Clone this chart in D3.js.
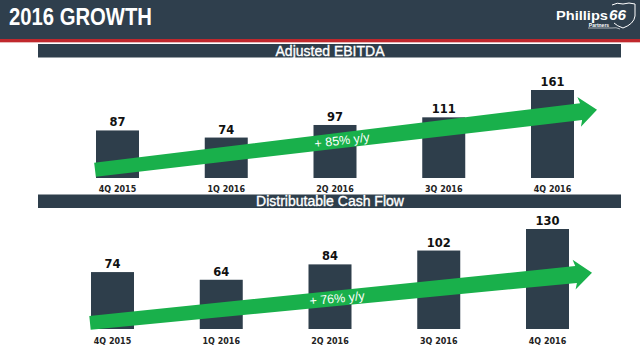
<!DOCTYPE html>
<html>
<head>
<meta charset="utf-8">
<script src="https://cdn.jsdelivr.net/npm/d3@7"></script>
<style>
html,body{margin:0;padding:0;background:#fff;}
svg{display:block;}
</style>
</head>
<body>
<svg id="chart" width="640" height="349"></svg>
<script>
const categories = ["4Q 2015", "1Q 2016", "2Q 2016", "3Q 2016", "4Q 2016"];
const ebitdaValues = [87, 74, 97, 111, 161];
const dcfValues = [74, 64, 84, 102, 130];
const ebitdaGrowth = "+ 85% y/y";
const dcfGrowth = "+ 76% y/y";
// trend arrow anchors in value units (start, end)
const ebitdaArrow = [15, 125];
const dcfArrow = [8, 73];

const DARK = "#2e3e4b";
const GREEN = "#19b04b";
const svg = d3.select("#chart");

// Header
svg.append("rect").attr("x",0).attr("y",0).attr("width",640).attr("height",39).attr("fill","#2f3f4d");
svg.append("rect").attr("x",0).attr("y",39).attr("width",640).attr("height",3).attr("fill","#c0282d");
svg.append("rect").attr("x",0).attr("y",42).attr("width",640).attr("height",1).attr("fill","#e8b8b8");
svg.append("text").attr("x",9).attr("y",25)
  .attr("font-family","Liberation Sans, Arial, sans-serif").attr("font-weight","bold")
  .attr("font-size",23).attr("fill","#fff")
  .attr("textLength",143).attr("lengthAdjust","spacingAndGlyphs")
  .text("2016 GROWTH");

// Logo
const logo = svg.append("g");
logo.append("path")
  .attr("d","M612,5 Q617,2 623,4 Q629,2 635,4 L635,16 Q634,24 623,28 Q617,26 614,23")
  .attr("fill","none").attr("stroke","#fff").attr("stroke-width",1);
logo.append("path")
  .attr("d","M588,28 L612,28 Q616,27 620,29")
  .attr("fill","none").attr("stroke","#fff").attr("stroke-width",0.6);
logo.append("text").attr("x",556).attr("y",20)
  .attr("font-family","Liberation Sans, Arial, sans-serif").attr("font-weight","bold")
  .attr("font-size",13.5).attr("fill","#fff")
  .attr("textLength",52).attr("lengthAdjust","spacingAndGlyphs").text("Phillips");
logo.append("text").attr("x",609).attr("y",20)
  .attr("font-family","Liberation Sans, Arial, sans-serif").attr("font-weight","bold").attr("font-style","italic")
  .attr("font-size",14).attr("fill","#fff")
  .attr("textLength",17).attr("lengthAdjust","spacingAndGlyphs").text("66");
logo.append("text").attr("x",599).attr("y",26.5).attr("text-anchor","middle")
  .attr("font-family","Liberation Sans, Arial, sans-serif").attr("font-weight","bold")
  .attr("font-size",5).attr("fill","#fff").text("Partners");

function panel(opts) {
  const g = svg.append("g");
  // section title bar
  g.append("rect").attr("x",38).attr("y",opts.barTop).attr("width",583).attr("height",13.5).attr("fill",DARK);
  g.append("text").attr("x",330).attr("y",opts.barTop+11.5).attr("text-anchor","middle")
    .attr("font-family","Liberation Sans, Arial, sans-serif").attr("font-size",14).attr("fill","#fff")
    .attr("stroke","#fff").attr("stroke-width",0.35)
    .text(opts.title);

  const x = d3.scaleBand().domain(categories).range(opts.xRange).paddingInner(0.6046).paddingOuter(0);
  const y = d3.scaleLinear().domain([0, opts.yMax]).range([opts.base, opts.top]);

  g.selectAll("rect.bar").data(opts.values).enter().append("rect")
    .attr("class","bar")
    .attr("x",(d,i)=>x(categories[i])).attr("width",x.bandwidth())
    .attr("y",d=>y(d)).attr("height",d=>y(0)-y(d))
    .attr("fill",DARK);

  g.selectAll("text.val").data(opts.values).enter().append("text")
    .attr("x",(d,i)=>x(categories[i])+x.bandwidth()/2).attr("y",d=>y(d)-4)
    .attr("text-anchor","middle")
    .attr("font-family","DejaVu Sans, sans-serif").attr("font-weight","bold")
    .attr("font-size",11.5).attr("fill","#111").text(d=>d);

  const axis = d3.axisBottom(x).tickSize(0).tickPadding(0);
  const ag = g.append("g").attr("transform",`translate(0,${opts.base})`).call(axis);
  ag.select(".domain").remove();
  ag.selectAll("text").attr("dy",0).attr("y",opts.labelOffset)
    .attr("font-family","DejaVu Sans, sans-serif").attr("font-weight","bold")
    .attr("font-size",8).attr("fill","#222");

  // trend arrow
  const x0 = x(categories[0]) - 1;
  const x1 = x(categories[categories.length-1]) + x.bandwidth() + 23;
  const y0 = y(opts.arrow[0]), y1 = y(opts.arrow[1]);
  const L = Math.hypot(x1-x0, y1-y0);
  const ang = Math.atan2(y1-y0, x1-x0) * 180 / Math.PI;
  const w0 = 7, w1 = 8.5, hl = 16, hw = 15;
  const pts = [[0,-w0],[L-hl,-w1],[L-hl-2,-hw],[L,0],[L-hl-2,hw],[L-hl,w1],[0,w0]];
  const ar = g.append("g").attr("transform",`translate(${x0},${y0}) rotate(${ang})`);
  ar.append("path").attr("d", d3.line()(pts) + "Z").attr("fill",GREEN);
  ar.append("text").attr("x",(opts.textX - x0)/Math.cos(ang*Math.PI/180)).attr("y",4.4)
    .attr("text-anchor","middle")
    .attr("font-family","Liberation Sans, Arial, sans-serif").attr("font-size",12.5).attr("fill","#fff")
    .text(opts.growth);
}

panel({title:"Adjusted EBITDA", barTop:44, values:ebitdaValues, xRange:[96,574], yMax:161,
  base:178, top:90, labelOffset:14, arrow:ebitdaArrow, growth:ebitdaGrowth, textX:342});
panel({title:"Distributable Cash Flow", barTop:194.5, values:dcfValues, xRange:[91,569], yMax:130,
  base:329, top:229, labelOffset:15, arrow:dcfArrow, growth:dcfGrowth, textX:337});
</script>
</body>
</html>
